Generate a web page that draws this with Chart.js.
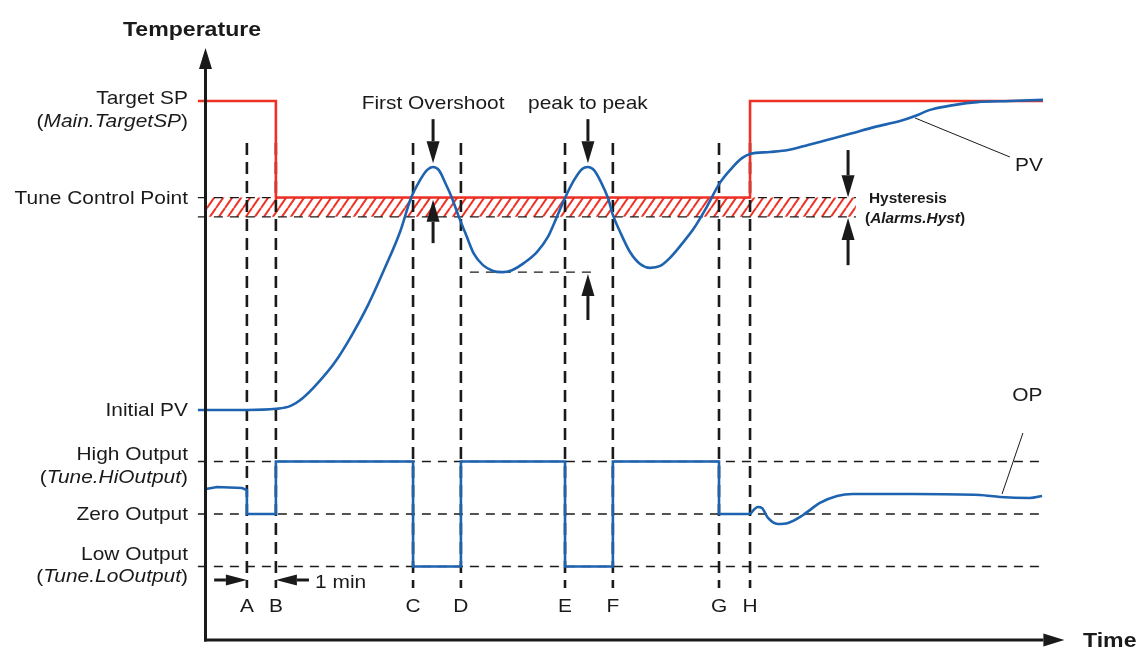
<!DOCTYPE html>
<html>
<head>
<meta charset="utf-8">
<script src="https://cdn.jsdelivr.net/npm/chart.js@4.4.0/dist/chart.umd.min.js"></script>
<style>
html, body { margin: 0; padding: 0; background: #fff; }
canvas { display: block; }
</style>
</head>
<body>
<canvas id="tuneChart" width="1138" height="648"></canvas>
<script>
// time in minutes, temperature in arbitrary units, output in %
var markerNames = ['A', 'B', 'C', 'D', 'E', 'F', 'G', 'H'];
var markerTimes = [1.41, 2.41, 7.14, 8.79, 12.38, 14.03, 17.69, 18.76];

var targetSP = 100, tuneCP = 75, hystLow = 70, initialPV = 20;
var hiOutput = 100, zeroOutput = 0, loOutput = -100;

var spTime = [-0.28, 2.41, 2.41, 18.76, 18.76, 28.86];
var spTemp = [100, 100, 75, 75, 100, 100];

var pvTime = [-0.28, 1.41, 2.41, 2.9, 3.34, 3.86, 4.45, 5.03, 5.59, 6.17, 6.69, 7.07, 7.38, 7.62, 7.83, 8.03,
    8.28, 8.48, 8.72, 8.97, 9.24, 9.55, 9.9, 10.21, 10.55, 10.97, 11.41, 11.79, 12.1, 12.38, 12.69, 12.97,
    13.17, 13.38, 13.62, 13.86, 14.03, 14.28, 14.62, 14.97, 15.31, 15.66, 16.0, 16.41, 16.83, 17.21, 17.72,
    18.14, 18.48, 18.76, 19.45, 20.07, 20.76, 21.41, 22.21, 23.07, 23.93, 24.45, 24.97, 25.83, 26.59, 27.72, 28.86];
var pvTemp = [20, 20, 20.3, 21.0, 23.1, 27.0, 32.4, 39.4, 47.2, 56.8, 66.1, 74.9, 79.5, 82.1, 82.9, 82.1,
    78.3, 74.9, 70.0, 65.3, 60.4, 57.5, 56.0, 55.7, 56.2, 58.1, 60.9, 64.8, 70.0, 74.9, 79.5, 82.4,
    82.9, 82.1, 79.0, 74.9, 70.5, 66.1, 60.9, 57.8, 56.8, 57.3, 59.4, 63.0, 67.1, 71.8, 78.8,
    82.7, 85.2, 86.3, 86.8, 87.3, 88.6, 89.9, 91.5, 93.3, 94.8, 96.1, 97.7, 99.0, 99.7, 100, 100.3];

var opTime = [0, 0.38, 1.24, 1.41, 1.41, 2.41, 2.41, 7.14, 7.14, 8.79, 8.79, 12.38, 12.38, 14.03, 14.03, 17.69, 17.69, 18.76];
var opValue = [47.6, 51.4, 49.5, 45.7, 0, 0, 100, 100, -100, -100, 100, 100, -100, -100, 100, 100, 0, 0];

var opTailTime = [18.76, 19.03, 19.17, 19.38, 19.72, 20.07, 20.59, 21.17, 21.76, 22.31, 24.38, 26.69, 27.38, 28.41, 28.83];
var opTailValue = [0, 13.3, 11.4, -7.6, -19, -17.1, -1.9, 21, 34.3, 38.1, 38.1, 36.2, 32.4, 30.5, 34.3];

var peakMinTime = [9.1, 13.41];
var peakMin = 55.7;
var hystEnd = 22.41;
var lineStart = -0.28, lineEnd = 28.86;
var markerTop = 89.1, markerBottom = -26.1;

var RED = '#ee3124', BLUE = '#1e63b0', INK = '#1a1a1a';
var FONT = '"Liberation Sans", Arial, Helvetica, sans-serif';

function pts(xs, ys) {
    return xs.map(function (x, i) { return { x: x, y: ys[i] }; });
}

function hatch() {
    var c = document.createElement('canvas');
    var w = 9, h = 13;
    c.width = w; c.height = h;
    var g = c.getContext('2d');
    g.strokeStyle = RED;
    g.lineWidth = 2;
    for (var k = -1; k <= 1; k++) {
        g.beginPath();
        g.moveTo(k * w, h);
        g.lineTo(k * w + w, 0);
        g.stroke();
    }
    return g.createPattern(c, 'repeat');
}

function dashed(data, axis, width, dash) {
    return {
        data: data, yAxisID: axis, borderColor: INK, borderWidth: width,
        borderDash: dash, pointRadius: 0, tension: 0, clip: false
    };
}

var datasets = [
    { data: pts(pvTime, pvTemp), yAxisID: 'y', borderColor: BLUE, borderWidth: 2.6, pointRadius: 0, cubicInterpolationMode: 'monotone', clip: false },
    { data: pts(spTime, spTemp), yAxisID: 'y', borderColor: RED, borderWidth: 2.6, pointRadius: 0, tension: 0, clip: false },
    { data: pts(opTime, opValue), yAxisID: 'y2', borderColor: BLUE, borderWidth: 2.6, pointRadius: 0, tension: 0, clip: false },
    { data: pts(opTailTime, opTailValue), yAxisID: 'y2', borderColor: BLUE, borderWidth: 2.6, pointRadius: 0, cubicInterpolationMode: 'monotone', clip: false }
];
// horizontal reference lines
datasets.push(dashed(pts([lineStart, hystEnd], [tuneCP, tuneCP]), 'y', 1.3, [9, 7]));
datasets.push(dashed(pts([lineStart, hystEnd], [hystLow, hystLow]), 'y', 1.3, [9, 7]));
datasets.push(dashed(pts(peakMinTime, [peakMin, peakMin]), 'y', 1.3, [9, 7]));
[hiOutput, zeroOutput, loOutput].forEach(function (v) {
    datasets.push(dashed(pts([lineStart, lineEnd], [v, v]), 'y2', 1.3, [9, 7]));
});
// event markers A..H
markerTimes.forEach(function (t) {
    datasets.push(dashed(pts([t, t], [markerTop, markerBottom]), 'y', 2.6, [12, 7]));
});
// hysteresis band
datasets.push({ data: pts([0, hystEnd], [tuneCP, tuneCP]), yAxisID: 'y', borderWidth: 0, pointRadius: 0, fill: '+1', backgroundColor: hatch() });
datasets.push({ data: pts([0, hystEnd], [hystLow, hystLow]), yAxisID: 'y', borderWidth: 0, pointRadius: 0 });

function text(ctx, parts, x, y, align, size, bold) {
    var sx = 1.1, w = 0;
    function f(it) { return (it ? 'italic ' : '') + (bold ? 'bold ' : '') + size + 'px ' + FONT; }
    parts.forEach(function (p) { ctx.font = f(p[1]); w += ctx.measureText(p[0]).width; });
    var x0 = align === 'right' ? x - w * sx : align === 'center' ? x - w * sx / 2 : x;
    ctx.save();
    ctx.translate(x0, y);
    ctx.scale(sx, 1);
    ctx.textAlign = 'left';
    ctx.textBaseline = 'alphabetic';
    ctx.fillStyle = INK;
    var cx = 0;
    parts.forEach(function (p) {
        ctx.font = f(p[1]);
        ctx.fillText(p[0], cx, 0);
        cx += ctx.measureText(p[0]).width;
    });
    ctx.restore();
}

function arrow(ctx, x1, y1, x2, y2, len, half, lw) {
    var a = Math.atan2(y2 - y1, x2 - x1);
    var bx = x2 - Math.cos(a) * len, by = y2 - Math.sin(a) * len;
    ctx.save();
    ctx.strokeStyle = INK; ctx.fillStyle = INK; ctx.lineWidth = lw;
    ctx.beginPath(); ctx.moveTo(x1, y1); ctx.lineTo(bx, by); ctx.stroke();
    ctx.beginPath();
    ctx.moveTo(x2, y2);
    ctx.lineTo(bx + Math.sin(a) * half, by - Math.cos(a) * half);
    ctx.lineTo(bx - Math.sin(a) * half, by + Math.cos(a) * half);
    ctx.closePath(); ctx.fill();
    ctx.restore();
}

var annotations = {
    id: 'annotations',
    afterDatasetsDraw: function (chart) {
        var ctx = chart.ctx, a = chart.chartArea;
        var X = chart.scales.x, Y = chart.scales.y, Y2 = chart.scales.y2;
        var px = function (v) { return X.getPixelForValue(v); };
        var py = function (v) { return Y.getPixelForValue(v); };
        var po = function (v) { return Y2.getPixelForValue(v); };

        // axes
        var ox = a.left - 0.5;
        arrow(ctx, ox, a.bottom + 1.5, ox, a.top, 21, 6.5, 3);
        arrow(ctx, ox - 1.5, a.bottom, px(29.6), a.bottom, 21, 6.5, 3);

        // left labels
        text(ctx, [['Target SP', 0]], 188, py(targetSP) + 3, 'right', 19);
        text(ctx, [['(', 0], ['Main.TargetSP', 1], [')', 0]], 188, py(targetSP) + 26, 'right', 19);
        text(ctx, [['Tune Control Point', 0]], 188, py(tuneCP) + 6, 'right', 19);
        text(ctx, [['Initial PV', 0]], 188, py(initialPV) + 6, 'right', 19);
        text(ctx, [['High Output', 0]], 188, po(hiOutput) - 1, 'right', 19);
        text(ctx, [['(', 0], ['Tune.HiOutput', 1], [')', 0]], 188, po(hiOutput) + 22, 'right', 19);
        text(ctx, [['Zero Output', 0]], 188, po(zeroOutput) + 6, 'right', 19);
        text(ctx, [['Low Output', 0]], 188, po(loOutput) - 6, 'right', 19);
        text(ctx, [['(', 0], ['Tune.LoOutput', 1], [')', 0]], 188, po(loOutput) + 16, 'right', 19);

        text(ctx, [['Temperature', 0]], 192, 36, 'center', 21, true);
        text(ctx, [['Time', 0]], 1083, 647, 'left', 21, true);

        // marker letters
        markerNames.forEach(function (n, i) {
            text(ctx, [[n, 0]], px(markerTimes[i]), a.bottom - 28, 'center', 19);
        });

        // 1 min
        var yMin = po(-125.7);
        arrow(ctx, px(0.28), yMin, px(markerTimes[0]), yMin, 21, 5.5, 3);
        arrow(ctx, px(3.55), yMin, px(markerTimes[1]), yMin, 21, 5.5, 3);
        text(ctx, [['1 min', 0]], px(3.76), yMin + 8, 'left', 19);

        // overshoot / peak to peak
        arrow(ctx, px(7.83), py(95.3), px(7.83), py(83.9), 22, 6.5, 3);
        arrow(ctx, px(7.83), py(63.2), px(7.83), py(74.4), 22, 6.5, 3);
        arrow(ctx, px(13.17), py(95.3), px(13.17), py(83.9), 22, 6.5, 3);
        arrow(ctx, px(13.17), py(43.3), px(13.17), py(55.2), 22, 6.5, 3);
        text(ctx, [['First Overshoot', 0]], px(7.83), 109, 'center', 19);
        text(ctx, [['peak to peak', 0]], px(13.17), 109, 'center', 19);

        // hysteresis
        arrow(ctx, px(22.14), py(87.3), px(22.14), py(75.1), 22, 6.5, 3);
        arrow(ctx, px(22.14), py(57.5), px(22.14), py(69.7), 22, 6.5, 3);
        text(ctx, [['Hysteresis', 0]], 869, py(tuneCP) + 5, 'left', 14, true);
        text(ctx, [['(', 0], ['Alarms.Hyst', 1], [')', 0]], 865, py(hystLow) + 6, 'left', 14, true);

        // leaders
        ctx.save();
        ctx.strokeStyle = INK; ctx.lineWidth = 1;
        ctx.beginPath();
        ctx.moveTo(px(24.45), py(95.6)); ctx.lineTo(px(27.72), py(85.5));
        ctx.moveTo(px(28.17), po(154.3)); ctx.lineTo(px(27.45), po(38.1));
        ctx.stroke();
        ctx.restore();
        text(ctx, [['PV', 0]], px(27.9), py(85.5) + 14, 'left', 19);
        text(ctx, [['OP', 0]], px(27.8), po(154.3) - 32, 'left', 19);
    }
};

new Chart(document.getElementById('tuneChart').getContext('2d'), {
    type: 'line',
    data: { datasets: datasets },
    options: {
        responsive: false,
        animation: false,
        events: [],
        layout: { padding: { left: 206, right: 91, top: 48, bottom: 8 } },
        scales: {
            x: { type: 'linear', min: 0, max: 29, display: false },
            y: { type: 'linear', min: -39.55, max: 113.72, display: false },
            y2: { type: 'linear', min: -240, max: 887.6, display: false }
        },
        plugins: { legend: { display: false }, tooltip: { enabled: false } }
    },
    plugins: [annotations]
});
</script>
</body>
</html>
